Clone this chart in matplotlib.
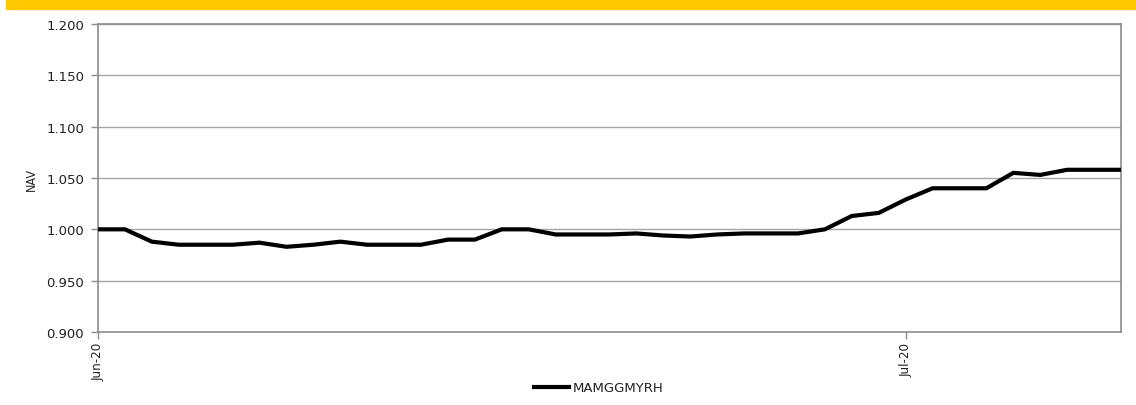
import matplotlib
matplotlib.use("Agg")
import matplotlib.pyplot as plt
import matplotlib.dates as mdates
import pandas as pd
from matplotlib.patches import Rectangle

start_date = "2020-06-01"
end_date = "2020-07-09"
nav = [1.000, 1.000, 0.988, 0.985, 0.985, 0.985, 0.987, 0.983, 0.985, 0.988,
       0.985, 0.985, 0.985, 0.990, 0.990, 1.000, 1.000, 0.995, 0.995, 0.995,
       0.996, 0.994, 0.993, 0.995, 0.996, 0.996, 0.996, 1.000, 1.013, 1.016,
       1.029, 1.040, 1.040, 1.040, 1.055, 1.053, 1.058, 1.058, 1.058]
series_name = "MAMGGMYRH"
y_label = "NAV"
y_ticks = [0.900, 0.950, 1.000, 1.050, 1.100, 1.150, 1.200]

dates = pd.date_range(start_date, end_date, freq="D")

W, H = 1136, 406
fig = plt.figure(figsize=(W / 100, H / 100), dpi=100)
fig.patch.set_facecolor("white")

# yellow band at top
fig.patches.append(Rectangle((6 / W, 1 - 10 / H), 1 - 6 / W, 10 / H,
                             transform=fig.transFigure, color="#FFC800", zorder=0))

ax = fig.add_axes([98 / W, 1 - 333 / H, (1121 - 98) / W, (333 - 25) / H])
ax.plot(dates, nav, color="black", lw=3, solid_joinstyle="miter", label=series_name, zorder=3)

ax.set_xlim(dates[0], dates[-1])
ax.set_ylim(0.9, 1.2)
ax.set_yticks(y_ticks)
ax.set_yticklabels([f"{v:.3f}" for v in y_ticks], fontsize=9.5, color="#222222")
ax.xaxis.set_major_locator(mdates.MonthLocator())
ax.xaxis.set_major_formatter(mdates.DateFormatter("%b-%y"))
for lbl in ax.get_xticklabels():
    lbl.set_rotation(90)
    lbl.set_fontsize(9.5)
    lbl.set_fontstretch("condensed")
    lbl.set_color("#222222")

ax.grid(axis="y", color="#A6A6A6", lw=1)
ax.set_axisbelow(True)
for s in ax.spines.values():
    s.set_color("#8C8C8C")
    s.set_linewidth(1.2)
ax.tick_params(axis="both", color="#8C8C8C", length=5, width=1, pad=2)
ax.tick_params(axis="y", pad=5)

ax.set_ylabel(y_label, fontsize=9, fontstretch="condensed", color="#222222", labelpad=6)

leg = fig.legend(loc="center", bbox_to_anchor=(599 / W, 1 - 389 / H), frameon=False,
                 fontsize=9.5, handlelength=2.6, handletextpad=0.3)
for t in leg.get_texts():
    t.set_color("#222222")

fig.savefig("out.png", dpi=100)
